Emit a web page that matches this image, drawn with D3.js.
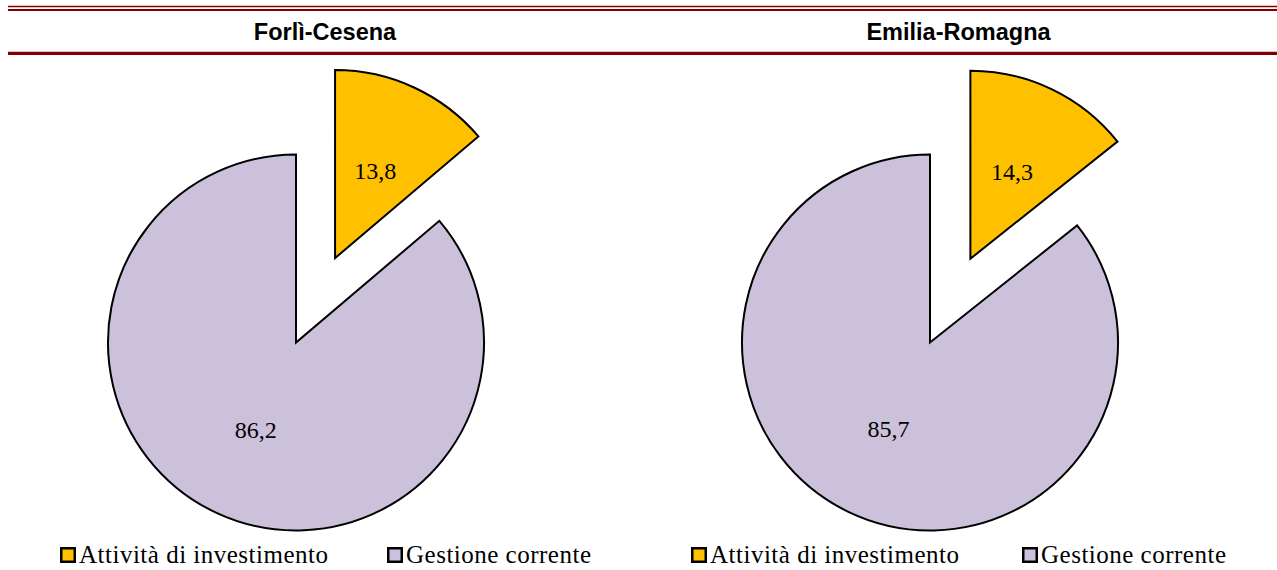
<!DOCTYPE html>
<html>
<head>
<meta charset="utf-8">
<script src="https://cdn.jsdelivr.net/npm/d3@7"></script>
<style>
  html, body { margin: 0; padding: 0; background: #fff; }
  svg { display: block; }
</style>
</head>
<body>
<svg id="chart" width="1277" height="570"></svg>
<script>
// Composizione della spesa: Forlì-Cesena vs Emilia-Romagna
const categories = ["Attività di investimento", "Gestione corrente"];
const regions = ["Forlì-Cesena", "Emilia-Romagna"];
const forliValues = [13.8, 86.2];
const emiliaValues = [14.3, 85.7];
const seriesValues = [forliValues, emiliaValues];
const colors = ["#FFC000", "#CCC1DA"];

const W = 1277, H = 570;
const svg = d3.select("#chart");

// header rules
const rule = "#7F0000";
svg.append("line").attr("x1", 8).attr("x2", W).attr("y1", 6.5).attr("y2", 6.5)
  .attr("stroke", rule).attr("stroke-width", 1.5);
svg.append("line").attr("x1", 8).attr("x2", W).attr("y1", 10).attr("y2", 10)
  .attr("stroke", rule).attr("stroke-width", 2);
svg.append("line").attr("x1", 8).attr("x2", W).attr("y1", 53.3).attr("y2", 53.3)
  .attr("stroke", rule).attr("stroke-width", 3.2);

// panel layout
const panels = [
  { cx: 296, titleX: 325, legX: [60, 387] },
  { cx: 930, titleX: 958.5, legX: [691, 1022] }
];
const cy = 342.5;

const fmt = v => d3.format(".1f")(v).replace(".", ",");
const serif = "Liberation Serif, Times New Roman, serif";

const radius = 188;
const explode = 93;
const pie = d3.pie().sort(null).value(d => d);
const arc = d3.arc().innerRadius(0).outerRadius(radius);
const labelArc = d3.arc().innerRadius(radius * 0.51).outerRadius(radius * 0.51);
const colorScale = d3.scaleOrdinal().domain(categories).range(colors);

regions.forEach((name, i) => {
  const p = panels[i];

  svg.append("text")
    .attr("x", p.titleX).attr("y", 39.5)
    .attr("text-anchor", "middle")
    .attr("font-family", "Liberation Sans, Arial, sans-serif")
    .attr("font-weight", "bold")
    .attr("font-size", 23.5)
    .text(name);

  const arcs = pie(seriesValues[i]);
  const pg = svg.append("g").attr("transform", `translate(${p.cx},${cy})`);

  arcs.forEach((a, j) => {
    const mid = (a.startAngle + a.endAngle) / 2;
    const off = j === 0 ? explode : 0;
    const dx = Math.sin(mid) * off, dy = -Math.cos(mid) * off;
    const sg = pg.append("g").attr("transform", `translate(${dx},${dy})`);
    sg.append("path")
      .attr("d", arc(a))
      .attr("fill", colorScale(categories[j]))
      .attr("stroke", "#000")
      .attr("stroke-width", 2)
      .attr("stroke-linejoin", "miter");
    const [lx, ly] = labelArc.centroid(a);
    sg.append("text")
      .attr("x", lx).attr("y", ly)
      .attr("text-anchor", "middle")
      .attr("dominant-baseline", "central")
      .attr("font-family", serif)
      .attr("font-size", 24)
      .text(fmt(seriesValues[i][j]));
  });

  // legend
  categories.forEach((c, j) => {
    const lg = svg.append("g").attr("transform", `translate(${p.legX[j]},547)`);
    lg.append("rect").attr("x", 1.25).attr("y", 1.25).attr("width", 13.5).attr("height", 13.5)
      .attr("fill", colorScale(c)).attr("stroke", "#000").attr("stroke-width", 2.5);
    lg.append("text")
      .attr("x", 19).attr("y", 15.5)
      .attr("font-family", serif)
      .attr("font-size", 25)
      .attr("letter-spacing", 0.5)
      .text(c);
  });
});
</script>
</body>
</html>
